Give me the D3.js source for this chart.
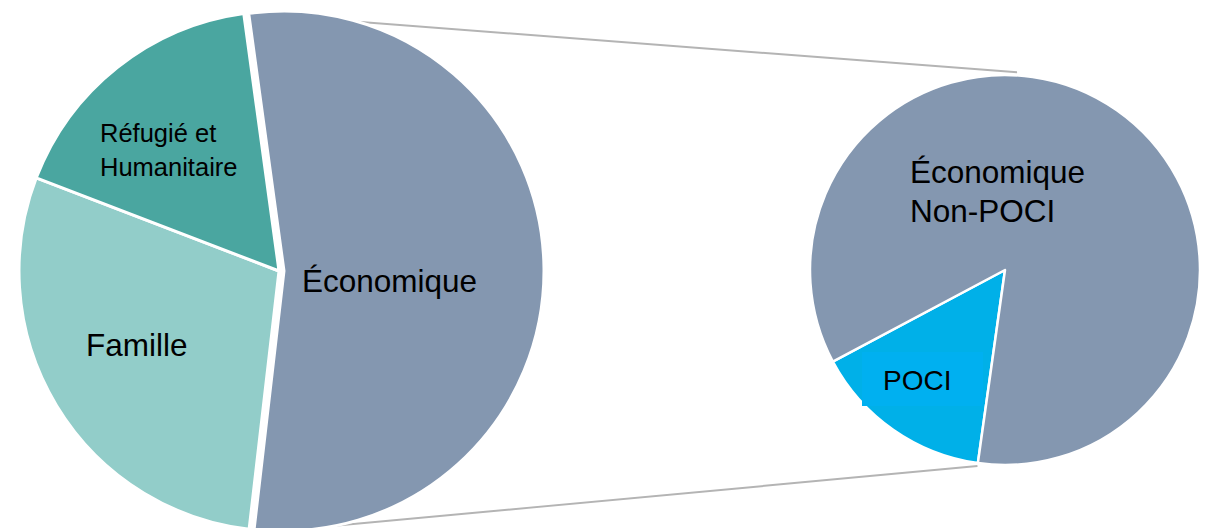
<!DOCTYPE html>
<html lang="fr">

<head>
    <meta charset="UTF-8">
    <title>Répartition des admissions</title>
    <style>
        body {
            margin: 0;
            background: #fff;
            font-family: "Liberation Sans", Arial, sans-serif;
        }

        .label {
            fill: #000;
        }
    </style>
</head>

<body>
    <div id="chart"></div>
    <script src="https://d3js.org/d3.v7.min.js"></script>
    <script>
        // main pie: categories and shares (%)
        const mainCategories = ["Économique", "Famille", "Réfugié et Humanitaire"];
        const mainValues = [54, 29, 17];
        const mainColors = ["#8497b0", "#92cdc9", "#4aa6a0"];

        // secondary pie: split of the économique slice
        const subCategories = ["POCI", "Économique Non-POCI"];
        const subValues = [15, 85];
        const subColors = ["#00b0e8", "#8497b0"];

        const width = 1206;
        const height = 528;
        const deg = Math.PI / 180;

        const svg = d3.select("#chart")
            .append("svg")
            .attr("width", width)
            .attr("height", height);

        // left pie
        const left = { cx: 279, cy: 271, r: 260, explode: 5 };
        const mainPie = d3.pie().sort(null).value(d => d)
            .startAngle(-7.8 * deg).endAngle(352.2 * deg);
        const mainArcs = mainPie(mainValues);
        const mainArc = d3.arc().innerRadius(0).outerRadius(left.r);

        // right pie
        const right = { cx: 1005, cy: 270, r: 195 };
        const subPie = d3.pie().sort(null).value(d => d)
            .startAngle(188 * deg).endAngle(548 * deg);
        const subArcs = subPie(subValues);
        const subArc = d3.arc().innerRadius(0).outerRadius(right.r);

        const onCircle = (c, r, a) => [c.cx + r * Math.sin(a), c.cy - r * Math.cos(a)];

        // connector lines, from the économique slice to the second pie
        const eco = mainArcs[0];
        const ex = left.explode * Math.sin((eco.startAngle + eco.endAngle) / 2);
        const ecoCenter = { cx: left.cx + ex, cy: left.cy };
        const connectors = [
            [onCircle(ecoCenter, left.r, eco.startAngle), onCircle(right, right.r + 3, 3.5 * deg)],
            [onCircle(ecoCenter, left.r + 4, eco.endAngle), onCircle(right, right.r + 3, subArcs[0].startAngle)]
        ];
        svg.selectAll(".connector")
            .data(connectors)
            .enter()
            .append("line")
            .attr("class", "connector")
            .attr("x1", d => d[0][0])
            .attr("y1", d => d[0][1])
            .attr("x2", d => d[1][0])
            .attr("y2", d => d[1][1])
            .attr("stroke", "#b4b4b4")
            .attr("stroke-width", 2);

        const leftG = svg.append("g")
            .attr("transform", `translate(${left.cx},${left.cy})`);

        leftG.selectAll("path")
            .data(mainArcs)
            .enter()
            .append("path")
            .attr("d", mainArc)
            .attr("transform", (d, i) => {
                if (i !== 0) return null;
                const a = (d.startAngle + d.endAngle) / 2;
                return `translate(${left.explode * Math.sin(a)},${-left.explode * Math.cos(a)})`;
            })
            .attr("fill", (d, i) => mainColors[i])
            .attr("stroke", "#fff")
            .attr("stroke-width", 3)
            .attr("stroke-linejoin", "round");

        const rightG = svg.append("g")
            .attr("transform", `translate(${right.cx},${right.cy})`);

        rightG.selectAll("path")
            .data(subArcs)
            .enter()
            .append("path")
            .attr("d", subArc)
            .attr("fill", (d, i) => subColors[i])
            .attr("stroke", "#fff")
            .attr("stroke-width", 2.5)
            .attr("stroke-linejoin", "round");

        // label box behind POCI, as in the original
        svg.append("rect")
            .attr("x", 862)
            .attr("y", 352)
            .attr("width", 121)
            .attr("height", 54)
            .attr("fill", "#00b0f0");

        const labels = [
            { lines: ["Économique"], x: 302, y: 292, size: 31.5 },
            { lines: ["Famille"], x: 86, y: 356, size: 31.5 },
            { lines: ["Réfugié et", "Humanitaire"], x: 100, y: 142, size: 25.5, lh: 34 },
            { lines: ["Économique", "Non-POCI"], x: 910, y: 183, size: 31.5, lh: 39 },
            { lines: ["POCI"], x: 883, y: 390, size: 28 }
        ];

        labels.forEach(l => {
            const t = svg.append("text")
                .attr("class", "label")
                .attr("x", l.x)
                .attr("y", l.y)
                .style("font-size", l.size + "px");
            l.lines.forEach((s, i) => {
                t.append("tspan")
                    .attr("x", l.x)
                    .attr("dy", i === 0 ? 0 : l.lh)
                    .text(s);
            });
        });
    </script>
</body>

</html>
